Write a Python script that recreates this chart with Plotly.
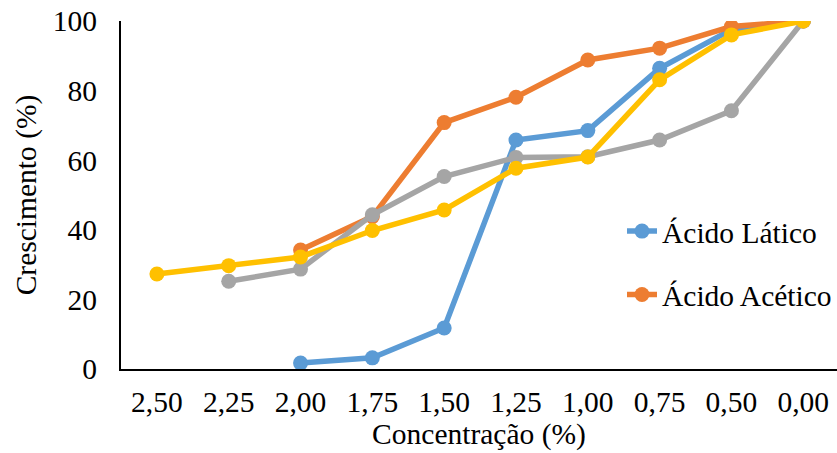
import plotly.graph_objects as go

categories = ["2,50", "2,25", "2,00", "1,75", "1,50", "1,25", "1,00", "0,75", "0,50", "0,00"]
acido_latico = [None, None, 1.7, 3.2, 11.8, 65.8, 68.5, 86.4, 97.5, 100]
acido_acetico = [None, None, 34.2, 43.8, 70.8, 78.1, 88.8, 92.2, 98.4, 100]
serie_cinza = [None, 25.2, 28.7, 44.3, 55.3, 60.8, 61.0, 65.8, 74.2, 100]
serie_amarela = [27.3, 29.7, 32.2, 39.8, 45.7, 57.7, 60.9, 83.1, 96.0, 100]

y_ticks = [0, 20, 40, 60, 80, 100]

FONT = "Liberation Serif"
FS = 29.5

series = [
    ("Ácido Lático", acido_latico, "#5B9BD5", True),
    ("Ácido Acético", acido_acetico, "#ED7D31", True),
    ("Série 3", serie_cinza, "#A5A5A5", False),
    ("Série 4", serie_amarela, "#FFC000", False),
]

fig = go.Figure()
for i, (name, vals, color, show) in enumerate(series):
    fig.add_trace(go.Scatter(
        x=list(range(len(categories))), y=vals, name=name, mode="lines+markers",
        line=dict(color=color, width=5.5), marker=dict(color=color, size=15),
        showlegend=show, legendgroup=f"g{i}", connectgaps=False,
    ))

fig.update_layout(
    width=837, height=453,
    margin=dict(l=121, r=0, t=21, b=84),
    paper_bgcolor="white", plot_bgcolor="white",
    font=dict(family=FONT, size=FS, color="black"),
    legend=dict(x=0.70, y=0.47, xanchor="left", yanchor="top",
                font=dict(family=FONT, size=FS, color="black"),
                tracegroupgap=22, bgcolor="rgba(0,0,0,0)"),
    xaxis=dict(
        tickmode="array", tickvals=list(range(len(categories))), ticktext=categories,
        range=[-0.5, 9.47], showline=True, linecolor="black", linewidth=2,
        showgrid=False, zeroline=False, ticks="", ticklabelstandoff=6,
        tickfont=dict(family=FONT, size=FS, color="black"),
        title=dict(text="Concentração (%)", font=dict(family=FONT, size=FS, color="black"), standoff=2),
    ),
    yaxis=dict(
        range=[0, 100], tickvals=y_ticks, showline=True, linecolor="black", linewidth=2,
        showgrid=False, zeroline=False, ticks="", ticklabelstandoff=16,
        tickfont=dict(family=FONT, size=FS, color="black"),
        title=dict(text="Crescimento (%)", font=dict(family=FONT, size=FS, color="black"), standoff=8),
    ),
)

fig.write_html("out.html")
